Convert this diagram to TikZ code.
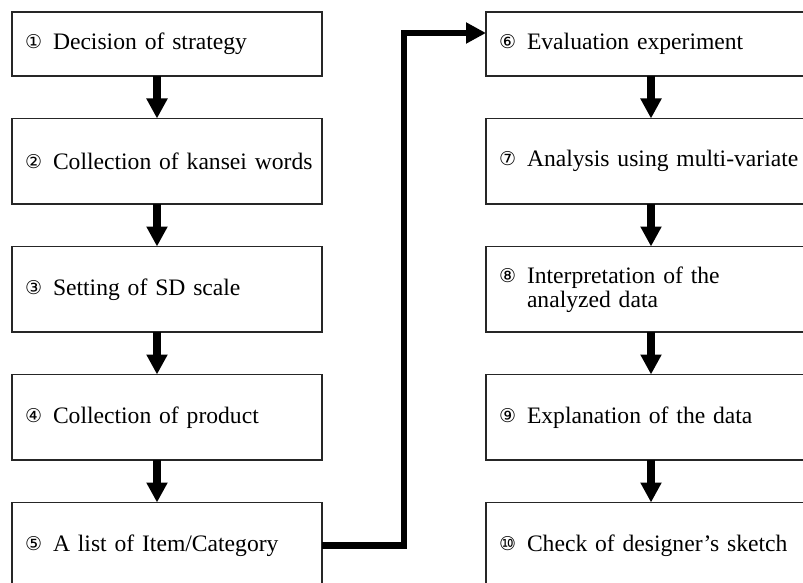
\documentclass[tikz,border=0pt]{standalone}
\usepackage{fontspec}
\setmainfont{Liberation Serif}
\newfontfamily\circfont{DejaVu Sans}
\usetikzlibrary{positioning, arrows.meta}

% circled step number, set in a fixed-width slot
\newcommand\cnum[1]{\makebox[28pt][l]{\circfont\fontsize{19}{19}\selectfont\raisebox{1pt}{#1}}}

\begin{document}
\begin{tikzpicture}[
    x=1pt, y=1pt,
    font=\fontsize{23.6}{24}\selectfont,
    stage/.style={rectangle, draw=black!85, line width=1.3pt, outer sep=0pt, text width=284pt, inner xsep=13pt, inner ysep=0pt, align=left, minimum height=85.5pt},
    top/.style={minimum height=64pt},
    wide/.style={text width=330pt},
    arrow/.style={-{Triangle[width=20pt, length=20pt]}, line width=7.5pt},
    node distance=42.5pt
]
\useasboundingbox (0,0) rectangle (803,-583);
\clip (0,0) rectangle (803,-583);

% Left column
\node (s1) [stage, top, anchor=north west] at (12,-12) {\cnum{①}\mbox{Decision of strategy}};
\node (s2) [stage, below=of s1] {\cnum{②}\mbox{Collection of kansei words}};
\node (s3) [stage, below=of s2] {\cnum{③}\mbox{Setting of SD scale}};
\node (s4) [stage, below=of s3] {\cnum{④}\mbox{Collection of product}};
\node (s5) [stage, below=of s4] {\cnum{⑤}\mbox{A list of Item/Category}};

% Right column
\node (s6) [stage, wide, top, anchor=north west] at (486,-12) {\cnum{⑥}\mbox{Evaluation experiment}};
\node (s7) [stage, wide, below=of s6] {\cnum{⑦}\mbox{Analysis using multi-variate}};
\node (s8) [stage, wide, below=of s7] {\cnum{⑧}Interpretation of the\\\hspace*{28pt}analyzed data};
\node (s9) [stage, wide, below=of s8] {\cnum{⑨}\mbox{Explanation of the data}};
\node (s10) [stage, wide, below=of s9] {\cnum{⑩}\mbox{Check of designer's sketch}};

% Arrows
\draw [arrow] ([xshift=145pt]s1.south west) -- ([xshift=145pt]s2.north west);
\draw [arrow] ([xshift=145pt]s2.south west) -- ([xshift=145pt]s3.north west);
\draw [arrow] ([xshift=145pt]s3.south west) -- ([xshift=145pt]s4.north west);
\draw [arrow] ([xshift=145pt]s4.south west) -- ([xshift=145pt]s5.north west);
\draw [arrow] ([xshift=165pt]s6.south west) -- ([xshift=165pt]s7.north west);
\draw [arrow] ([xshift=165pt]s7.south west) -- ([xshift=165pt]s8.north west);
\draw [arrow] ([xshift=165pt]s8.south west) -- ([xshift=165pt]s9.north west);
\draw [arrow] ([xshift=165pt]s9.south west) -- ([xshift=165pt]s10.north west);

% Jump to the second column
\draw [arrow, line width=6.5pt] (s5.east) -- ++(82,0) |- ([yshift=11pt]s6.west);

\end{tikzpicture}
\end{document}
